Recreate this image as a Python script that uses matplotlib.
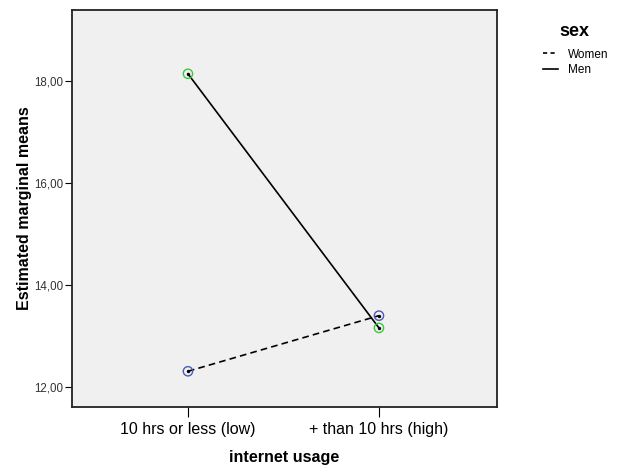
import matplotlib.pyplot as plt
from matplotlib.lines import Line2D

plt.rcParams['font.family'] = ['Liberation Sans', 'DejaVu Sans']

# Data
usage = ["10 hrs or less (low)", "+ than 10 hrs (high)"]
women = [12.31, 13.40]
men = [18.14, 13.16]
y_ticks = [12, 14, 16, 18]

W, H = 617, 468
fig = plt.figure(figsize=(W / 100, H / 100), dpi=100)
# axes box in pixels: x 72..497, y 10..407
ax = fig.add_axes([72 / W, 1 - 407 / H, (497 - 72) / W, (407 - 10) / H])
ax.set_facecolor("#f0f0f0")

x = list(range(len(usage)))
ax.plot(x, women, color="black", linestyle=(0, (4, 2.5)), linewidth=1.2)
ax.plot(x, men, color="black", linestyle="-", linewidth=1.2)
ax.scatter(x, women, s=45, facecolors="none", edgecolors="#4a5ab5", linewidths=1.0, zorder=3)
ax.scatter(x, men, s=45, facecolors="none", edgecolors="#3cc83c", linewidths=1.0, zorder=3)
ax.scatter(x + x, women + men, s=2, color="black", zorder=4)

ax.set_xlim(-0.607, 1.618)
ax.set_ylim(11.61, 19.39)
ax.set_xticks(x)
ax.set_xticklabels(usage, fontsize=11.5)
ax.set_yticks(y_ticks)
ax.set_yticklabels([f"{v:.2f}".replace(".", ",") for v in y_ticks], fontsize=8.3, color="#333333")
ax.tick_params(axis="x", length=7, width=0.8, pad=4)
ax.tick_params(axis="y", length=5, width=0.8, pad=1)
for s in ax.spines.values():
    s.set_linewidth(1.3)
    s.set_color("#222222")

ax.set_xlabel("internet usage", fontsize=11.6, fontweight="bold", labelpad=9)
ax.set_ylabel("Estimated marginal means", fontsize=11.5, fontweight="bold", labelpad=2)

# legend
fig.text(574 / W, 1 - 31 / H, "sex", fontsize=13, fontweight="bold", ha="center", va="center")
handles = [Line2D([], [], color="black", linestyle=(0, (2.5, 2)), linewidth=1.2),
           Line2D([], [], color="black", linestyle="-", linewidth=1.2)]
fig.legend(handles, ["Women", "Men"], loc="upper left", bbox_to_anchor=(543 / W, 1 - 48.5 / H),
           frameon=False, fontsize=8.5, handlelength=1.3, handletextpad=0.8,
           labelspacing=0.28, borderpad=0, borderaxespad=0)

fig.savefig("out.png", dpi=100)
